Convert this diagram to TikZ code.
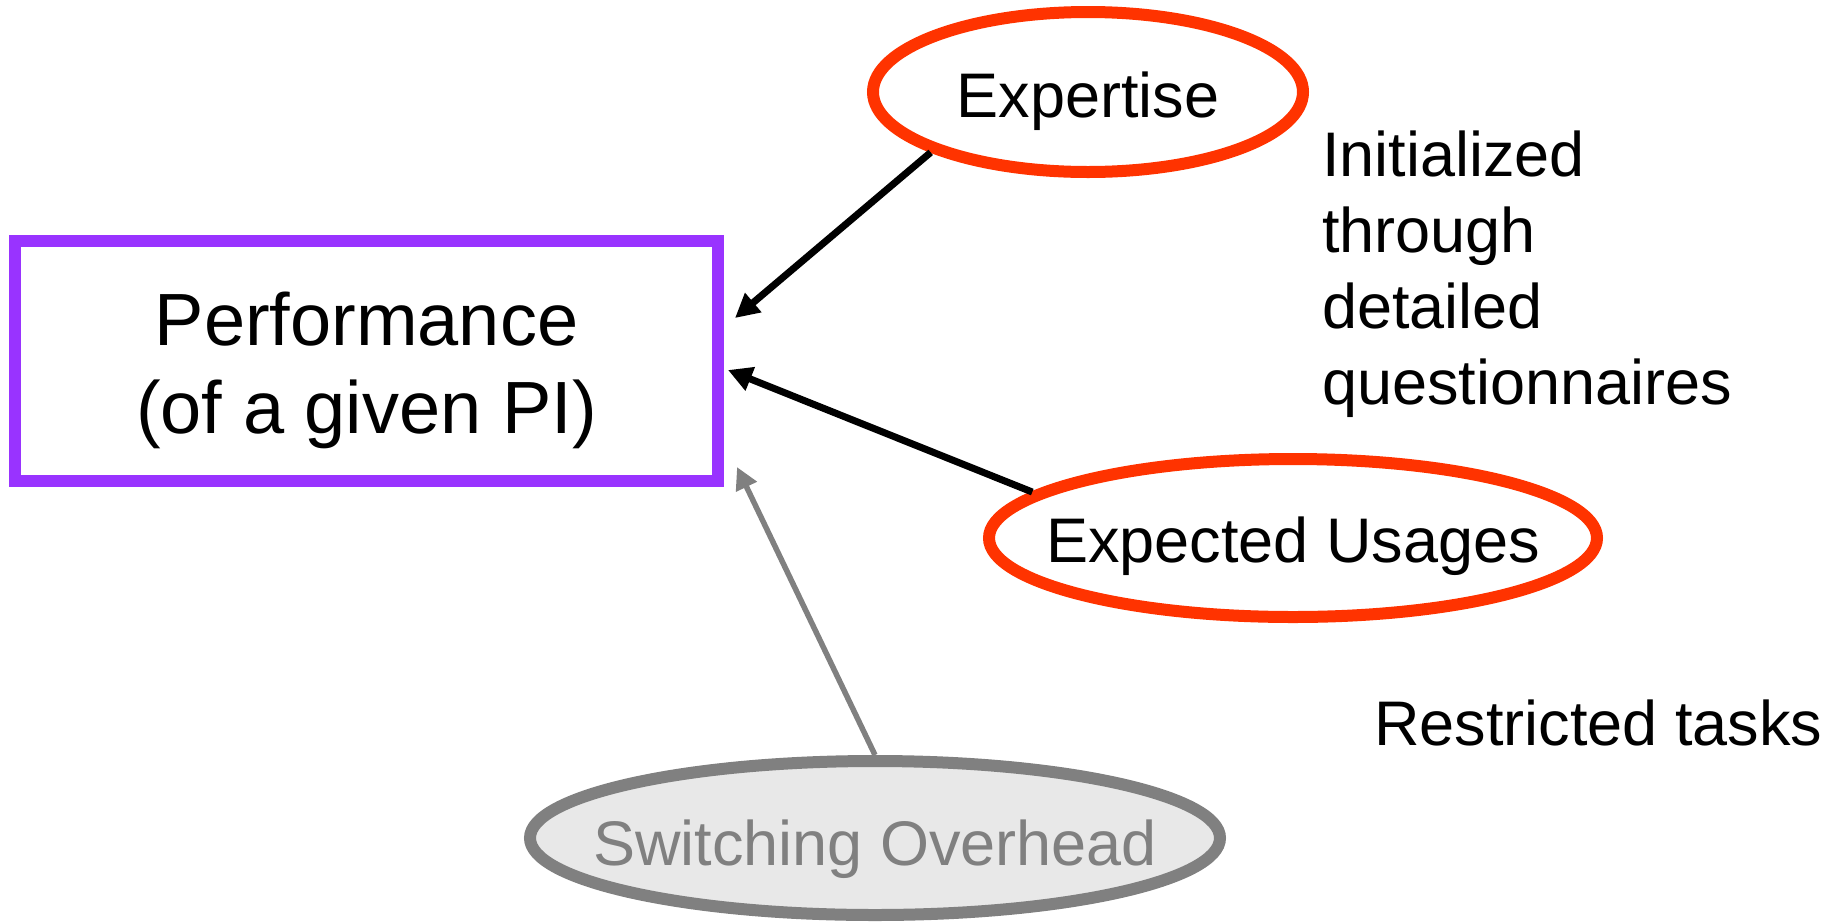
\documentclass[tikz,border=0pt]{standalone}
\usepackage{fontspec}
\setmainfont{Liberation Sans}
\usetikzlibrary{arrows.meta,shapes.geometric}
\definecolor{perfpurple}{HTML}{9933FF}
\definecolor{redorange}{HTML}{FF3300}
\definecolor{midgray}{HTML}{808080}
\definecolor{palegray}{HTML}{E8E8E8}
\begin{document}
\begin{tikzpicture}[x=1pt,y=-1pt,
  bigfont/.style={font=\fontsize{74}{88}\selectfont},
  lblfont/.style={font=\fontsize{63}{76}\selectfont},
  perfbox/.style={draw=perfpurple, line width=12pt, rectangle, minimum width=703pt, minimum height=240pt, inner sep=0pt, align=center, bigfont, text height=144pt, text depth=0pt},
  factor/.style={draw=redorange, line width=12pt, ellipse, inner ysep=0pt, inner xsep=-60pt, lblfont, text depth=0pt},
  grayfactor/.style={draw=midgray, fill=palegray, text=midgray, line width=12pt, ellipse, inner ysep=0pt, inner xsep=-60pt, lblfont, text depth=0pt},
  note/.style={lblfont, inner sep=0pt, align=left},
  conn/.style={-{Triangle[length=24pt,width=24pt]}, line width=7pt, black},
  grayconn/.style={-{Triangle[length=22pt,width=22pt]}, line width=5.5pt, midgray}
]
\useasboundingbox (0,0) rectangle (1837,922);

\node[perfbox] (perf) at (366.5,361) {Performance\\(of a given PI)};
\node[factor, minimum width=430pt, minimum height=160pt, text height=50pt] (exp) at (1088,92) {Expertise};
\node[factor, minimum width=608pt, minimum height=158pt, text height=48pt] (use) at (1293,538) {Expected Usages};
\node[grayfactor, minimum width=690pt, minimum height=154pt, text height=54pt] (sw) at (875,838) {Switching Overhead};

\node[note, anchor=base west] (init) at (1322,404) {Initialized\\through\\detailed\\questionnaires};
\node[note, anchor=base west] (restr) at (1374,745) {Restricted tasks};

\coordinate (t1) at (735,318);
\coordinate (t2) at (728,370);
\coordinate (t3) at (737,467);

\draw[conn] (exp.201) -- (t1);
\draw[conn] (use.170) -- (t2);
\draw[grayconn] (sw.north) -- (t3);
\end{tikzpicture}
\end{document}
